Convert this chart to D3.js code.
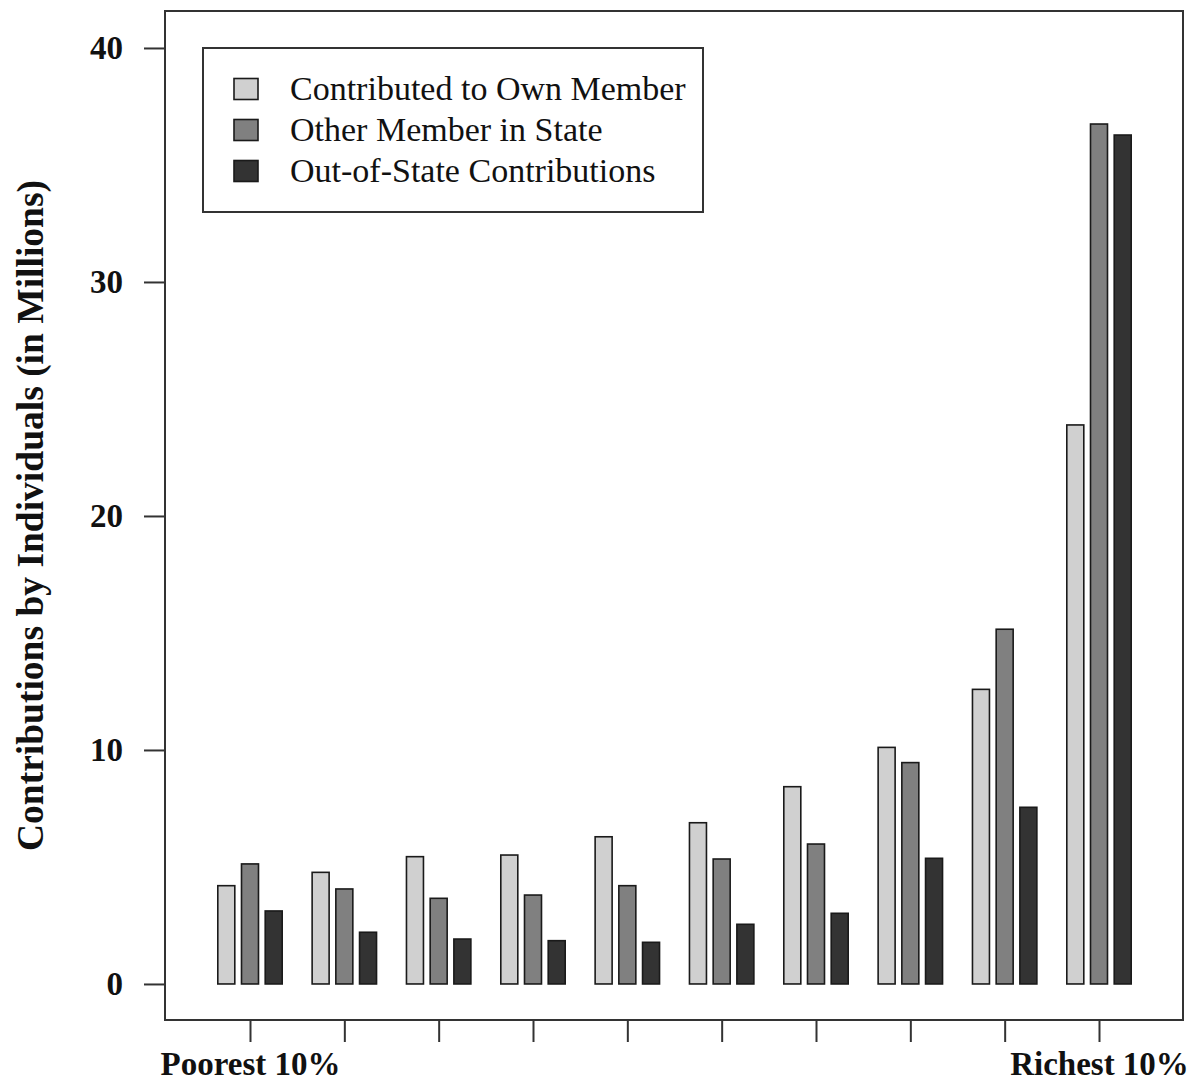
<!DOCTYPE html>
<html>
<head>
<meta charset="utf-8">
<script src="https://cdn.jsdelivr.net/npm/d3@7"></script>
<style>
  body { margin: 0; background: #fff; }
  text { font-family: "Liberation Serif", "DejaVu Serif", serif; fill: #111; }
</style>
</head>
<body>
<div id="chart"></div>
<script>
// deciles, poorest to richest
var deciles = ["D1", "D2", "D3", "D4", "D5", "D6", "D7", "D8", "D9", "D10"];
var decileLabels = ["Poorest 10%", "", "", "", "", "", "", "", "", "Richest 10%"];
var seriesNames = ["Contributed to Own Member", "Other Member in State", "Out-of-State Contributions"];
var seriesColors = ["#d0d0d0", "#808080", "#333333"];

// values in millions
var ownMember = [4.2, 4.77, 5.44, 5.51, 6.29, 6.89, 8.43, 10.11, 12.59, 23.89];
var otherMember = [5.13, 4.06, 3.66, 3.8, 4.2, 5.34, 5.98, 9.46, 15.16, 36.75];
var outOfState = [3.12, 2.21, 1.92, 1.85, 1.78, 2.55, 3.02, 5.37, 7.55, 36.28];

var yTicks = [0, 10, 20, 30, 40];

var width = 1196, height = 1082;
var box = { left: 165, top: 11, right: 1183, bottom: 1020 };

var svg = d3.select("#chart")
    .append("svg")
    .attr("width", width)
    .attr("height", height);

var y = d3.scaleLinear().domain([-1.54, 41.58]).range([box.bottom, box.top]);
var x = d3.scalePoint().domain(deciles).range([250, 1099]);
var inner = d3.scaleBand().domain(seriesNames).range([-32.2, 32.2]).paddingInner(0.283);

var allSeries = [ownMember, otherMember, outOfState];
var rows = [];
deciles.forEach(function (d, i) {
    seriesNames.forEach(function (s, j) {
        rows.push({ decile: d, series: s, value: allSeries[j][i], color: seriesColors[j] });
    });
});

// bars
svg.append("g")
    .selectAll("rect")
    .data(rows)
    .enter()
    .append("rect")
    .attr("x", function (d) { return x(d.decile) + inner(d.series); })
    .attr("width", inner.bandwidth())
    .attr("y", function (d) { return y(d.value); })
    .attr("height", function (d) { return y(0) - y(d.value); })
    .attr("fill", function (d) { return d.color; })
    .attr("stroke", "#1a1a1a")
    .attr("stroke-width", 1.6);

// plot frame
svg.append("rect")
    .attr("x", box.left)
    .attr("y", box.top)
    .attr("width", box.right - box.left)
    .attr("height", box.bottom - box.top)
    .attr("fill", "none")
    .attr("stroke", "#333")
    .attr("stroke-width", 2);

// y axis
var yAxis = svg.append("g")
    .attr("transform", "translate(" + box.left + ",0)")
    .call(d3.axisLeft(y).tickValues(yTicks).tickSize(21).tickPadding(21));
yAxis.select(".domain").remove();
yAxis.selectAll(".tick line").attr("stroke", "#333").attr("stroke-width", 2);
yAxis.selectAll(".tick text")
    .attr("font-family", "Liberation Serif, serif")
    .attr("font-size", 33)
    .attr("font-weight", "bold")
    .attr("fill", "#111");

// x axis
var xAxis = svg.append("g")
    .attr("transform", "translate(0," + box.bottom + ")")
    .call(d3.axisBottom(x).tickSize(22).tickFormat(function (d, i) { return decileLabels[i]; }));
xAxis.select(".domain").remove();
xAxis.selectAll(".tick line").attr("stroke", "#333").attr("stroke-width", 2);
xAxis.selectAll(".tick text")
    .attr("y", 55)
    .attr("dy", 0)
    .attr("font-family", "Liberation Serif, serif")
    .attr("font-size", 33)
    .attr("font-weight", "bold")
    .attr("fill", "#111");

// y title
svg.append("text")
    .attr("transform", "translate(43," + (box.top + box.bottom) / 2 + ") rotate(-90)")
    .attr("text-anchor", "middle")
    .attr("font-size", 37.5)
    .attr("font-weight", "bold")
    .text("Contributions by Individuals (in Millions)");

// legend
var legend = svg.append("g");
legend.append("rect")
    .attr("x", 203)
    .attr("y", 48)
    .attr("width", 500)
    .attr("height", 164)
    .attr("fill", "#fff")
    .attr("stroke", "#333")
    .attr("stroke-width", 2);

var items = legend.selectAll("g.item")
    .data(seriesNames)
    .enter()
    .append("g")
    .attr("class", "item")
    .attr("transform", function (d, i) { return "translate(0," + (89 + i * 41) + ")"; });

items.append("rect")
    .attr("x", 234)
    .attr("y", -10.5)
    .attr("width", 24)
    .attr("height", 21)
    .attr("fill", function (d, i) { return seriesColors[i]; })
    .attr("stroke", "#1a1a1a")
    .attr("stroke-width", 1.6);

items.append("text")
    .attr("x", 290)
    .attr("y", 11)
    .attr("font-size", 34)
    .text(function (d) { return d; });
</script>
</body>
</html>
